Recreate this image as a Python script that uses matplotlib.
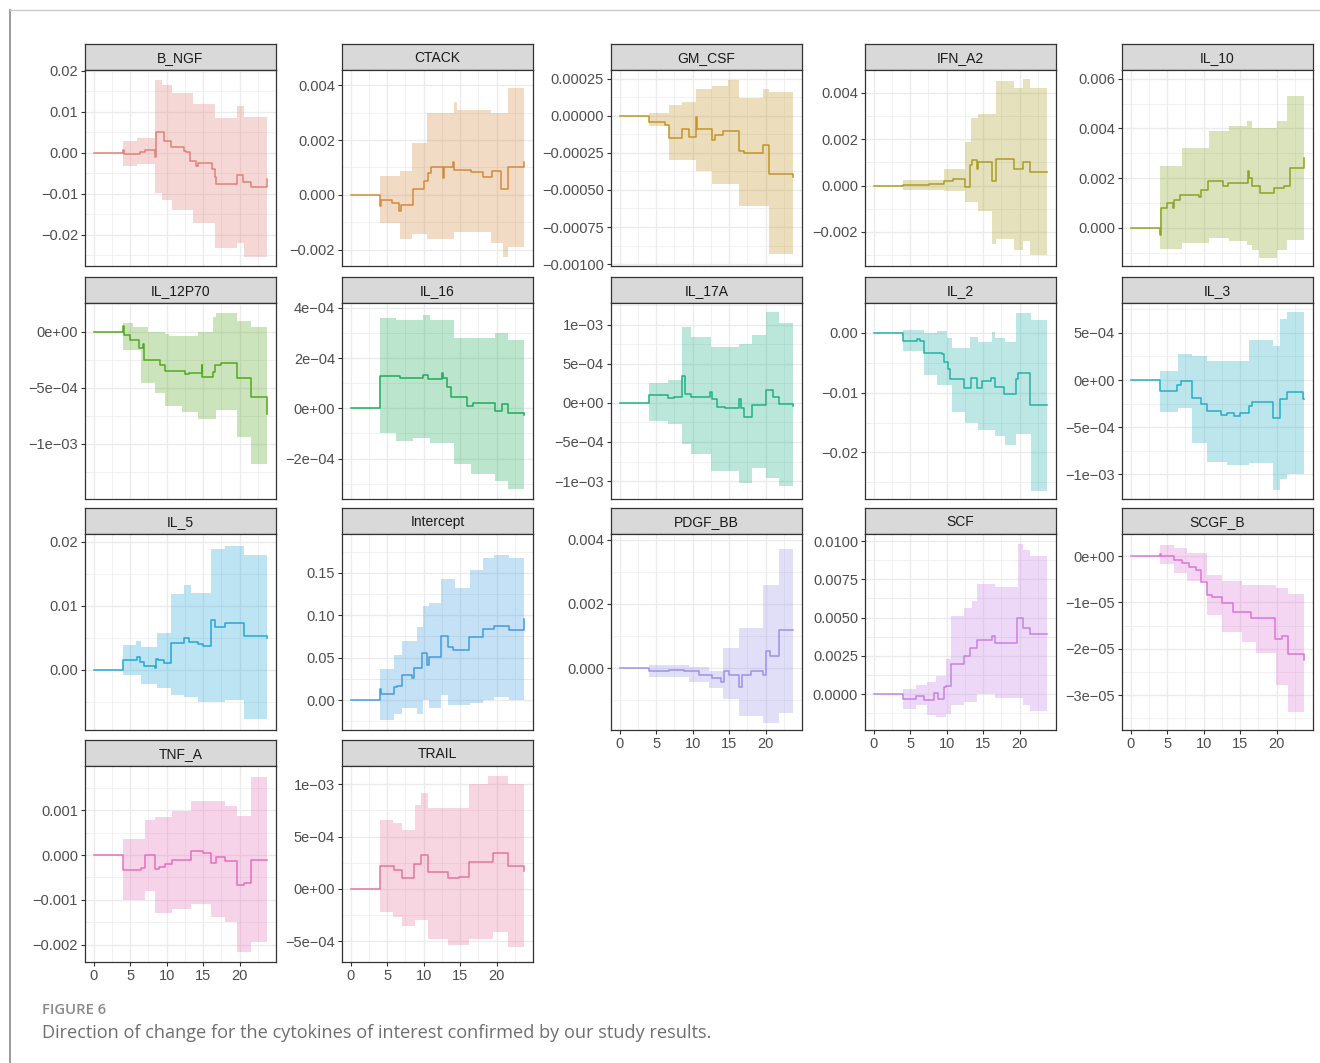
import numpy as np
import matplotlib
matplotlib.use("Agg")
import matplotlib.pyplot as plt
from matplotlib.lines import Line2D
from matplotlib.ticker import FixedLocator

plt.rcParams["font.family"] = ["Liberation Sans", "DejaVu Sans"]

M = "\u2212"  # typographic minus

# ---------------------------------------------------------------- data
# Each panel: step estimate (t, est), confidence band (bt, lo, hi),
# y-axis breaks and labels, and y-axis limits.

b_ngf_t = [0, 4.07, 4.15, 6.4, 7.0, 8.4, 8.55, 9.63, 10.65, 12.4, 12.6, 13.2, 14.0, 14.25, 16.26, 16.6, 16.8, 19.6, 20.5, 21.5, 23.7, 23.8]
b_ngf_est = [0, 0.0008, -0.0002, 0.0003, 0.0007, -0.001, 0.005, 0.003, 0.0013, 0.0005, 0.0003, -0.002, -0.0031, -0.0024, -0.004, -0.006, -0.0075, -0.0053, -0.007, -0.0083, -0.0065, -0.0065]
b_ngf_bt = [4.07, 6.0, 8.4, 9.35, 10.75, 13.55, 16.6, 19.6, 20.56, 23.8]
b_ngf_lo = [-0.0033, -0.0028, -0.0098, -0.0115, -0.014, -0.017, -0.0233, -0.022, -0.0255, -0.0255]
b_ngf_hi = [0.0029, 0.0035, 0.0178, 0.0165, 0.0146, 0.012, 0.0085, 0.0113, 0.0087, 0.0087]
b_ngf_ticks = [0.02, 0.01, 0.0, -0.01, -0.02]
b_ngf_labels = ["0.02", "0.01", "0.00", M + "0.01", M + "0.02"]
b_ngf_ylim = [-0.0276, 0.0202]

ctack_t = [0, 4.0, 4.1, 5.6, 6.6, 6.9, 8.5, 10.0, 10.6, 11.0, 12.6, 12.8, 14.0, 14.1, 16.5, 18.1, 19.4, 20.6, 21.5, 23.7, 23.8]
ctack_est = [0, -0.0004, -0.00018, -0.0003, -0.0006, -0.00035, 0.0002, 0.0005, 0.0008, 0.001, 0.0006, 0.001, 0.0012, 0.0009, 0.00085, 0.00065, 0.00087, 0.00023, 0.001, 0.0012, 0.0012]
ctack_bt = [4.0, 6.7, 8.46, 10.4, 14.2, 14.6, 19.3, 20.9, 21.6, 23.8]
ctack_lo = [-0.00104, -0.0016, -0.00143, -0.0016, -0.00135, -0.00135, -0.00177, -0.00225, -0.0019, -0.0019]
ctack_hi = [0.0007, 0.00087, 0.0019, 0.003, 0.0034, 0.0031, 0.003, 0.003, 0.0039, 0.0039]
ctack_ticks = [0.004, 0.002, 0.0, -0.002]
ctack_labels = ["0.004", "0.002", "0.000", M + "0.002"]
ctack_ylim = [-0.00259, 0.00455]

gm_csf_t = [0, 4.0, 6.28, 6.76, 8.6, 9.5, 10.4, 10.65, 12.6, 13.0, 14.1, 16.3, 17.0, 19.6, 20.5, 23.7, 23.8]
gm_csf_est = [0, -0.00004, -0.00006, -0.00015, -0.00009, -0.00014, -0.00001, -0.00009, -0.00016, -0.00013, -0.0001, -0.00024, -0.00025, -0.0002, -0.00039, -0.00041, -0.00041]
gm_csf_bt = [4.0, 6.76, 8.6, 10.4, 12.6, 14.8, 16.3, 19.6, 20.4, 23.8]
gm_csf_lo = [-0.00007, -0.0003, -0.0003, -0.00037, -0.00046, -0.00046, -0.00061, -0.00061, -0.00093, -0.00093]
gm_csf_hi = [0.00002, 0.00007, 0.00009, 0.00018, 0.0002, 0.00024, 0.00012, 0.00018, 0.00016, 0.00016]
gm_csf_ticks = [0.00025, 0.0, -0.00025, -0.0005, -0.00075, -0.001]
gm_csf_labels = ["0.00025", "0.00000", M + "0.00025", M + "0.00050", M + "0.00075", M + "0.00100"]
gm_csf_ylim = [-0.001013, 0.000309]

ifn_a2_t = [0, 4.0, 7.53, 9.7, 10.84, 12.5, 13.2, 13.47, 14.1, 14.3, 16.15, 16.8, 19.3, 20.45, 21.45, 23.8]
ifn_a2_est = [0, 0.00003, 0.00006, 0.0002, 0.0003, -0.00007, 0.0009, 0.0011, 0.0007, 0.001, 0.0002, 0.00115, 0.0007, 0.001, 0.0006, 0.0006]
ifn_a2_bt = [4.0, 9.57, 12.5, 13.33, 14.3, 16.15, 16.8, 19.3, 20.45, 21.45, 23.8]
ifn_a2_lo = [-0.00017, -0.00025, -0.0007, -0.0007, -0.0011, -0.0025, -0.0023, -0.0028, -0.0024, -0.003, -0.003]
ifn_a2_hi = [0.00026, 0.0007, 0.0019, 0.0029, 0.0031, 0.0031, 0.0045, 0.0042, 0.0046, 0.0042, 0.0042]
ifn_a2_ticks = [0.004, 0.002, 0.0, -0.002]
ifn_a2_labels = ["0.004", "0.002", "0.000", M + "0.002"]
ifn_a2_ylim = [-0.00347, 0.00499]

il_10_t = [0, 4.0, 4.1, 5.0, 5.8, 6.0, 6.7, 9.3, 9.7, 10.6, 12.6, 13.4, 16.1, 16.2, 16.6, 17.7, 19.7, 21.0, 21.9, 23.7, 23.8]
il_10_est = [0, -0.0003, 0.0008, 0.001, 0.0008, 0.0011, 0.0013, 0.00125, 0.0015, 0.0019, 0.0017, 0.0018, 0.0023, 0.002, 0.0017, 0.0014, 0.0016, 0.0017, 0.0024, 0.0028, 0.0028]
il_10_bt = [4.0, 5.0, 7.0, 10.8, 13.5, 15.9, 16.6, 17.6, 20.0, 21.4, 23.8]
il_10_lo = [-0.00086, -0.00086, -0.00063, -0.0004, -0.00055, -0.0007, -0.0009, -0.0012, -0.0009, -0.0005, -0.0005]
il_10_hi = [0.0025, 0.0025, 0.0032, 0.0039, 0.0041, 0.0043, 0.004, 0.004, 0.0043, 0.0053, 0.0053]
il_10_ticks = [0.006, 0.004, 0.002, 0.0]
il_10_labels = ["0.006", "0.004", "0.002", "0.000"]
il_10_ylim = [-0.00154, 0.00635]

il_12p70_t = [0, 4.0, 4.1, 5.0, 6.2, 6.8, 6.9, 9.1, 9.8, 12.5, 13.0, 14.8, 14.9, 16.3, 16.6, 17.4, 19.6, 21.5, 23.7, 23.8]
il_12p70_est = [0, 0.00005, -0.00003, -0.00007, -0.00014, -0.00011, -0.00025, -0.0003, -0.00035, -0.00038, -0.00037, -0.0003, -0.0004, -0.00036, -0.0003, -0.00028, -0.00041, -0.00058, -0.00073, -0.00073]
il_12p70_bt = [4.0, 5.4, 6.5, 7.5, 8.4, 9.8, 10.3, 12.1, 14.25, 16.3, 16.8, 19.6, 21.5, 23.8]
il_12p70_lo = [-0.00016, -0.00016, -0.00046, -0.00046, -0.00055, -0.00066, -0.00066, -0.00072, -0.00078, -0.00078, -0.0007, -0.00094, -0.00118, -0.00118]
il_12p70_hi = [0.00008, 0.00004, 0.00004, 0.0, 0.0, -0.00002, -0.00004, -0.00004, 0.0, 0.00013, 0.00017, 0.0001, 0.00004, 0.00004]
il_12p70_ticks = [0.0, -0.0005, -0.001]
il_12p70_labels = ["0e+00", M + "5e" + M + "04", M + "1e" + M + "03"]
il_12p70_ylim = [-0.001494, 0.000258]

il_16_t = [0, 4.0, 6.7, 9.95, 10.65, 12.5, 12.6, 13.2, 13.7, 16.0, 16.7, 19.77, 20.7, 21.6, 23.7, 23.8]
il_16_est = [0, 0.00013, 0.00012, 0.000133, 0.000116, 0.00014, 0.00012, 0.000084, 0.000044, 0.00001, 0.00002, -0.00001, 0.000017, -0.00002, -0.000025, -0.000025]
il_16_bt = [4.0, 6.2, 8.55, 9.95, 10.9, 14.16, 16.5, 19.77, 21.6, 23.8]
il_16_lo = [-0.0001, -0.00013, -0.00012, -0.00012, -0.00014, -0.00022, -0.00026, -0.00029, -0.00032, -0.00032]
il_16_hi = [0.00036, 0.00035, 0.00035, 0.00037, 0.00035, 0.00028, 0.00028, 0.0003, 0.00027, 0.00027]
il_16_ticks = [0.0004, 0.0002, 0.0, -0.0002]
il_16_labels = ["4e" + M + "04", "2e" + M + "04", "0e+00", M + "2e" + M + "04"]
il_16_ylim = [-0.000361, 0.000419]

il_17a_t = [0, 4.0, 6.6, 7.4, 8.6, 9.0, 9.8, 12.4, 12.7, 13.4, 14.4, 16.3, 16.6, 17.0, 18.2, 20.1, 21.0, 21.8, 23.7, 23.8]
il_17a_est = [0, 0.0001, 0.00006, 0.00007, 0.00035, 0.00012, 0.00007, 0.00014, 0.00005, -0.00005, -0.00006, 0.00005, -0.00006, -0.00018, -0.00003, 0.00016, 0.00007, -0.00001, -0.00004, -0.00004]
il_17a_bt = [4.0, 6.6, 8.6, 9.8, 12.56, 16.3, 18.2, 20.1, 21.8, 23.8]
il_17a_lo = [-0.00023, -0.00027, -0.00053, -0.00066, -0.00087, -0.00102, -0.00083, -0.00096, -0.00106, -0.00106]
il_17a_hi = [0.00025, 0.0003, 0.00097, 0.00085, 0.00072, 0.00076, 0.00087, 0.00117, 0.00102, 0.00102]
il_17a_ticks = [0.001, 0.0005, 0.0, -0.0005, -0.001]
il_17a_labels = ["1e" + M + "03", "5e" + M + "04", "0e+00", M + "5e" + M + "04", M + "1e" + M + "03"]
il_17a_ylim = [-0.00123, 0.00128]

il_2_t = [0, 4.0, 5.94, 6.4, 6.85, 9.34, 9.57, 10.25, 10.48, 12.38, 13.33, 14.1, 14.9, 16.1, 16.6, 17.8, 19.5, 19.8, 21.45, 23.8]
il_2_est = [0, -0.0013, -0.0011, -0.0013, -0.0034, -0.0036, -0.0049, -0.006, -0.0078, -0.0092, -0.0075, -0.0092, -0.008, -0.0075, -0.009, -0.0102, -0.0078, -0.0067, -0.0121, -0.0121]
il_2_bt = [4.0, 6.85, 8.66, 10.0, 10.7, 12.5, 13.2, 14.33, 16.15, 16.6, 17.96, 19.55, 21.6, 23.8]
il_2_lo = [-0.003, -0.0071, -0.0088, -0.0088, -0.0133, -0.015, -0.015, -0.0163, -0.0163, -0.0172, -0.0187, -0.017, -0.0264, -0.0264]
il_2_hi = [0.00056, -0.0001, 0.0003, -0.0009, -0.0026, -0.0026, -0.0007, -0.0015, 0.0002, -0.0008, -0.0016, 0.0034, 0.0021, 0.0021]
il_2_ticks = [0.0, -0.01, -0.02]
il_2_labels = ["0.00", M + "0.01", M + "0.02"]
il_2_ylim = [-0.0278, 0.005]

il_3_t = [0, 4.05, 6.4, 6.94, 8.38, 9.64, 10.45, 12.4, 13.2, 14.1, 15.0, 16.2, 16.6, 19.5, 20.45, 21.4, 23.6, 23.8]
il_3_est = [0, -0.000114, -0.00005, -0.00001, -0.000185, -0.00025, -0.00033, -0.00037, -0.00035, -0.00038, -0.00035, -0.00028, -0.00023, -0.0004, -0.0002, -0.00013, -0.0002, -0.0002]
il_3_bt = [4.05, 6.5, 8.38, 10.45, 13.2, 16.2, 19.5, 20.45, 21.4, 23.8]
il_3_lo = [-0.00034, -0.0003, -0.00067, -0.00087, -0.0009, -0.00088, -0.00116, -0.00105, -0.001, -0.001]
il_3_hi = [0.0001, 0.00028, 0.00025, 0.0002, 0.0002, 0.00042, 0.00036, 0.00065, 0.00072, 0.00072]
il_3_ticks = [0.0005, 0.0, -0.0005, -0.001]
il_3_labels = ["5e" + M + "04", "0e+00", M + "5e" + M + "04", M + "1e" + M + "03"]
il_3_ylim = [-0.00126, 0.000816]

il_5_t = [0, 4.07, 6.0, 6.3, 6.9, 8.4, 8.5, 8.8, 9.7, 10.56, 12.4, 13.1, 14.25, 14.95, 16.1, 16.6, 18.0, 20.56, 23.7, 23.8]
il_5_est = [0, 0.0015, 0.002, 0.0012, 0.0006, 0.0003, 0.0017, 0.0015, 0.0011, 0.0041, 0.005, 0.0044, 0.004, 0.0037, 0.0078, 0.0067, 0.0073, 0.0052, 0.0049, 0.0049]
il_5_bt = [4.07, 5.84, 6.54, 8.64, 10.56, 12.4, 13.3, 14.25, 16.1, 18.0, 20.56, 23.8]
il_5_lo = [-0.0008, -0.0008, -0.0023, -0.0029, -0.004, -0.0042, -0.0042, -0.005, -0.0051, -0.0047, -0.0077, -0.0077]
il_5_hi = [0.0038, 0.0045, 0.0035, 0.0057, 0.0119, 0.0132, 0.012, 0.012, 0.0188, 0.0194, 0.0179, 0.0179]
il_5_ticks = [0.02, 0.01, 0.0]
il_5_labels = ["0.02", "0.01", "0.00"]
il_5_ylim = [-0.00942, 0.0212]

intercept_t = [0, 4.07, 4.16, 5.9, 6.3, 7.0, 8.4, 8.7, 9.77, 10.5, 10.77, 12.44, 13.35, 14.0, 16.2, 18.1, 19.7, 21.7, 23.75, 23.8]
intercept_est = [0, 0.0126, 0.007, 0.015, 0.017, 0.03, 0.026, 0.038, 0.056, 0.041, 0.051, 0.075, 0.063, 0.059, 0.074, 0.084, 0.087, 0.083, 0.096, 0.096]
intercept_bt = [4.07, 5.88, 7.0, 9.05, 9.86, 10.77, 12.44, 13.35, 14.25, 16.3, 18.1, 19.7, 21.7, 23.8]
intercept_lo = [-0.024, -0.016, -0.01, -0.016, 0.0, -0.01, 0.006, -0.006, -0.006, -0.004, 0.0, 0.004, 0.0, 0.0]
intercept_hi = [0.037, 0.053, 0.07, 0.086, 0.111, 0.115, 0.143, 0.143, 0.132, 0.154, 0.168, 0.171, 0.168, 0.168]
intercept_ticks = [0.15, 0.10, 0.05, 0.0]
intercept_labels = ["0.15", "0.10", "0.05", "0.00"]
intercept_ylim = [-0.0354, 0.196]

pdgf_bb_t = [0, 4.08, 6.8, 8.84, 10.9, 12.6, 13.95, 14.3, 15.0, 16.3, 16.7, 18.0, 19.7, 20.1, 20.6, 21.8, 23.8]
pdgf_bb_est = [0, -0.00008, -0.00005, -0.00008, -0.0002, -0.00032, -0.00043, -0.0001, -0.0002, -0.0006, -0.0002, -0.00008, -0.0002, 0.00054, 0.00037, 0.0012, 0.0012]
pdgf_bb_bt = [4.08, 9.5, 12.2, 14.2, 16.3, 19.7, 21.8, 23.8]
pdgf_bb_lo = [-0.00027, -0.00043, -0.00063, -0.00095, -0.0015, -0.0017, -0.0014, -0.0014]
pdgf_bb_hi = [0.0001, 0.00002, -0.0001, 0.00063, 0.00126, 0.0026, 0.0037, 0.0037]
pdgf_bb_ticks = [0.004, 0.002, 0.0]
pdgf_bb_labels = ["0.004", "0.002", "0.000"]
pdgf_bb_ylim = [-0.00193, 0.00418]

scf_t = [0, 4.0, 5.8, 6.85, 8.3, 8.75, 9.57, 9.93, 10.57, 12.43, 13.2, 14.1, 16.15, 16.6, 19.6, 20.45, 21.45, 23.8]
scf_est = [0, -0.0003, -0.00015, -0.00037, 0.00007, -0.0003, 0.00046, 0.0005, 0.00196, 0.0025, 0.003, 0.00355, 0.0038, 0.00335, 0.005, 0.0043, 0.0039, 0.0039]
scf_bt = [4.0, 5.8, 7.3, 8.57, 9.93, 10.57, 12.43, 13.42, 14.1, 16.6, 19.77, 20.45, 21.45, 23.8]
scf_lo = [-0.001, -0.0007, -0.00135, -0.0015, -0.0013, -0.00074, -0.0005, -0.0005, 0.0, -0.00024, -0.00024, -0.00074, -0.0011, -0.0011]
scf_hi = [0.00035, 0.0006, 0.0008, 0.0012, 0.0023, 0.0051, 0.0056, 0.0061, 0.0072, 0.007, 0.0098, 0.0094, 0.009, 0.009]
scf_ticks = [0.01, 0.0075, 0.005, 0.0025, 0.0]
scf_labels = ["0.0100", "0.0075", "0.0050", "0.0025", "0.0000"]
scf_ylim = [-0.00235, 0.01046]

scgf_b_t = [0, 4.0, 4.1, 6.0, 7.0, 8.0, 8.9, 9.7, 10.4, 11.1, 12.45, 14.0, 16.5, 19.8, 20.8, 21.6, 23.7, 23.8]
scgf_b_est = [0, 5e-7, 0, -9e-7, -1.6e-6, -2.3e-6, -3e-6, -5.7e-6, -8.4e-6, -8.8e-6, -1.02e-5, -1.21e-5, -1.34e-5, -1.8e-5, -1.73e-5, -2.11e-5, -2.24e-5, -2.24e-5]
scgf_b_bt = [4.0, 6.0, 7.7, 10.4, 12.45, 15.2, 17.2, 19.9, 21.6, 23.8]
scgf_b_lo = [-1.8e-6, -3.7e-6, -5.5e-6, -1.27e-5, -1.63e-5, -1.85e-5, -2.1e-5, -2.78e-5, -3.37e-5, -3.37e-5]
scgf_b_hi = [2.4e-6, 1.7e-6, 6e-7, -4.1e-6, -5.5e-6, -6.3e-6, -6.3e-6, -7e-6, -8.3e-6, -8.3e-6]
scgf_b_ticks = [0.0, -1e-5, -2e-5, -3e-5]
scgf_b_labels = ["0e+00", M + "1e" + M + "05", M + "2e" + M + "05", M + "3e" + M + "05"]
scgf_b_ylim = [-3.755e-5, 4.75e-6]

tnf_a_t = [0, 4.07, 6.54, 7.0, 8.4, 9.0, 9.8, 10.75, 13.3, 14.95, 16.1, 16.7, 18.0, 19.6, 20.56, 21.6, 23.8]
tnf_a_est = [0, -0.00033, -0.0003, 0.0, -0.00032, -0.00026, -0.00019, -0.00012, 0.00008, 0.00004, -0.00017, -0.00004, -0.00014, -0.00067, -0.00063, -0.0001, -0.0001]
tnf_a_bt = [4.07, 7.0, 8.4, 10.75, 13.3, 16.1, 16.7, 18.0, 19.6, 21.6, 23.8]
tnf_a_lo = [-0.001, -0.0008, -0.0013, -0.0012, -0.0011, -0.00137, -0.00137, -0.0015, -0.00216, -0.00194, -0.00194]
tnf_a_hi = [0.00036, 0.00078, 0.00085, 0.00098, 0.0012, 0.0012, 0.0012, 0.0011, 0.00087, 0.00173, 0.00173]
tnf_a_ticks = [0.001, 0.0, -0.001, -0.002]
tnf_a_labels = ["0.001", "0.000", M + "0.001", M + "0.002"]
tnf_a_ylim = [-0.00238, 0.00198]

trail_t = [0, 4.07, 5.9, 7.05, 8.7, 9.6, 10.65, 13.3, 14.86, 16.26, 19.5, 21.5, 23.7, 23.8]
trail_est = [0, 0.00022, 0.00018, 0.0001, 0.00024, 0.00032, 0.00016, 0.0001, 0.00011, 0.00026, 0.00034, 0.00022, 0.00017, 0.00017]
trail_bt = [4.07, 5.75, 7.05, 8.8, 9.6, 10.65, 13.3, 16.26, 18.8, 19.5, 21.5, 23.8]
trail_lo = [-0.00022, -0.00027, -0.00036, -0.0003, -0.0003, -0.00048, -0.00054, -0.00048, -0.00048, -0.00041, -0.00056, -0.00056]
trail_hi = [0.00066, 0.00063, 0.00056, 0.0008, 0.00092, 0.00077, 0.00077, 0.001, 0.00108, 0.00108, 0.001, 0.001]
trail_ticks = [0.001, 0.0005, 0.0, -0.0005]
trail_labels = ["1e" + M + "03", "5e" + M + "04", "0e+00", M + "5e" + M + "04"]
trail_ylim = [-0.0007, 0.001175]

x_ticks = [0, 5, 10, 15, 20]
x_labels = ["0", "5", "10", "15", "20"]
x_limits = [-1.19, 24.99]

panels = [
    ("B_NGF", b_ngf_t, b_ngf_est, b_ngf_bt, b_ngf_lo, b_ngf_hi, b_ngf_ticks, b_ngf_labels, b_ngf_ylim),
    ("CTACK", ctack_t, ctack_est, ctack_bt, ctack_lo, ctack_hi, ctack_ticks, ctack_labels, ctack_ylim),
    ("GM_CSF", gm_csf_t, gm_csf_est, gm_csf_bt, gm_csf_lo, gm_csf_hi, gm_csf_ticks, gm_csf_labels, gm_csf_ylim),
    ("IFN_A2", ifn_a2_t, ifn_a2_est, ifn_a2_bt, ifn_a2_lo, ifn_a2_hi, ifn_a2_ticks, ifn_a2_labels, ifn_a2_ylim),
    ("IL_10", il_10_t, il_10_est, il_10_bt, il_10_lo, il_10_hi, il_10_ticks, il_10_labels, il_10_ylim),
    ("IL_12P70", il_12p70_t, il_12p70_est, il_12p70_bt, il_12p70_lo, il_12p70_hi, il_12p70_ticks, il_12p70_labels, il_12p70_ylim),
    ("IL_16", il_16_t, il_16_est, il_16_bt, il_16_lo, il_16_hi, il_16_ticks, il_16_labels, il_16_ylim),
    ("IL_17A", il_17a_t, il_17a_est, il_17a_bt, il_17a_lo, il_17a_hi, il_17a_ticks, il_17a_labels, il_17a_ylim),
    ("IL_2", il_2_t, il_2_est, il_2_bt, il_2_lo, il_2_hi, il_2_ticks, il_2_labels, il_2_ylim),
    ("IL_3", il_3_t, il_3_est, il_3_bt, il_3_lo, il_3_hi, il_3_ticks, il_3_labels, il_3_ylim),
    ("IL_5", il_5_t, il_5_est, il_5_bt, il_5_lo, il_5_hi, il_5_ticks, il_5_labels, il_5_ylim),
    ("Intercept", intercept_t, intercept_est, intercept_bt, intercept_lo, intercept_hi, intercept_ticks, intercept_labels, intercept_ylim),
    ("PDGF_BB", pdgf_bb_t, pdgf_bb_est, pdgf_bb_bt, pdgf_bb_lo, pdgf_bb_hi, pdgf_bb_ticks, pdgf_bb_labels, pdgf_bb_ylim),
    ("SCF", scf_t, scf_est, scf_bt, scf_lo, scf_hi, scf_ticks, scf_labels, scf_ylim),
    ("SCGF_B", scgf_b_t, scgf_b_est, scgf_b_bt, scgf_b_lo, scgf_b_hi, scgf_b_ticks, scgf_b_labels, scgf_b_ylim),
    ("TNF_A", tnf_a_t, tnf_a_est, tnf_a_bt, tnf_a_lo, tnf_a_hi, tnf_a_ticks, tnf_a_labels, tnf_a_ylim),
    ("TRAIL", trail_t, trail_est, trail_bt, trail_lo, trail_hi, trail_ticks, trail_labels, trail_ylim),
]

caption_label = "FIGURE 6"
caption_text = "Direction of change for the cytokines of interest confirmed by our study results."


# ---------------------------------------------------------------- colours
def hcl_rgb(h, c=100.0, l=65.0):
    """Polar-Luv (HCL) to clipped sRGB triple in 0..1, D65 white."""
    hr = np.radians(h)
    U, V = c * np.cos(hr), c * np.sin(hr)
    Xn, Yn, Zn = 95.047, 100.0, 108.883
    Y = Yn * ((l + 16) / 116) ** 3 if l > 8 else Yn * l / 903.3
    den = Xn + 15 * Yn + 3 * Zn
    un, vn = 4 * Xn / den, 9 * Yn / den
    u = U / (13 * l) + un
    v = V / (13 * l) + vn
    X = 9.0 * Y * u / (4 * v)
    Z = -X / 3 - 5 * Y + 3 * Y / v
    X, Y, Z = X / 100, Y / 100, Z / 100
    lin = [3.240479 * X - 1.537150 * Y - 0.498535 * Z,
           -0.969256 * X + 1.875992 * Y + 0.041556 * Z,
           0.055648 * X - 0.204043 * Y + 1.057311 * Z]

    def gam(x):
        x = 1.055 * x ** (1 / 2.4) - 0.055 if x > 0.0031308 else 12.92 * x
        return min(max(x, 0.0), 1.0)

    return np.array([gam(x) for x in lin])


def soften(rgb, amount=0.25):
    """Pull a colour part of the way towards its own grey value."""
    grey = 0.299 * rgb[0] + 0.587 * rgb[1] + 0.114 * rgb[2]
    return tuple(rgb * (1 - amount) + grey * amount)


n = len(panels)
hues = np.linspace(15, 375, n + 1)[:-1]
colors = [soften(hcl_rgb(h)) for h in hues]

# ---------------------------------------------------------------- layout (pixels)
W, H = 1320, 1063
fig = plt.figure(figsize=(W / 100, H / 100), dpi=100)
fig.patch.set_facecolor("white")

col_left = [85, 342, 611, 865, 1122]
row_top = [44, 277, 508, 740]
panel_w, strip_h, panel_h = 191, 26, 196
ncol = 5

border_col = "#333333"
grid_col = "#EBEBEB"
text_col = "#4D4D4D"


def fx(px):
    return px / W


def fy(py):
    return 1 - py / H


last_in_col = {}
for i in range(n):
    last_in_col[i % ncol] = i

for i, (name, t, est, bt, lo, hi, yt, yl, ylim) in enumerate(panels):
    r, c = divmod(i, ncol)
    left = col_left[c]
    top = row_top[r]

    # strip
    sax = fig.add_axes([fx(left), fy(top + strip_h), fx(panel_w), strip_h / H])
    sax.set_facecolor("#D9D9D9")
    sax.set_xticks([])
    sax.set_yticks([])
    for sp in sax.spines.values():
        sp.set_color(border_col)
        sp.set_linewidth(0.9)
    sax.text(0.5, 0.47, name, ha="center", va="center", fontsize=10, color="#1A1A1A",
             transform=sax.transAxes)

    # panel
    ax = fig.add_axes([fx(left), fy(top + strip_h + panel_h), fx(panel_w), panel_h / H])
    ax.set_xlim(x_limits)
    ax.set_ylim(ylim)
    ax.set_axisbelow(True)

    ax.set_xticks(x_ticks)
    xm = [x + 2.5 for x in x_ticks]
    ax.xaxis.set_minor_locator(FixedLocator(xm))
    step = yt[0] - yt[1]
    ym = sorted(set([v - step / 2 for v in yt] + [v + step / 2 for v in yt]))
    ym = [v for v in ym if ylim[0] < v < ylim[1]]
    ax.set_yticks(yt)
    ax.set_yticklabels(yl)
    ax.yaxis.set_minor_locator(FixedLocator(ym))

    ax.grid(which="major", color=grid_col, linewidth=1.0)
    ax.grid(which="minor", color=grid_col, linewidth=0.5)
    ax.tick_params(which="minor", length=0)
    ax.tick_params(which="major", length=3.0, width=0.8, color=border_col,
                   labelsize=10.5, labelcolor=text_col, pad=2)

    if last_in_col[c] == i:
        ax.set_xticklabels(x_labels)
    else:
        ax.tick_params(axis="x", which="major", length=0, labelbottom=False)

    for sp in ax.spines.values():
        sp.set_color(border_col)
        sp.set_linewidth(0.9)

    col = colors[i]
    ax.fill_between(bt, lo, hi, step="post", color=col, alpha=0.3, linewidth=0)
    ax.plot(t, est, drawstyle="steps-post", color=col, linewidth=1.1)

# ---------------------------------------------------------------- frame and caption
frame_col = "#9A9A9A"
fig.add_artist(Line2D([fx(10), fx(10)], [fy(10), 0], color=frame_col, linewidth=1.4))
fig.add_artist(Line2D([fx(10), 1], [fy(10), fy(10)], color="#C8C8C8", linewidth=1.0))

fig.text(fx(42), fy(1010), caption_label, ha="left", va="center", fontsize=10.7,
         fontweight="semibold", color="#8A8A8A", family=["Open Sans", "DejaVu Sans"])
fig.text(fx(42), fy(1033), caption_text, ha="left", va="center", fontsize=13.1,
         color="#6E6E6E", family=["Open Sans", "DejaVu Sans"])

fig.savefig("out.png", dpi=100, facecolor="white")
